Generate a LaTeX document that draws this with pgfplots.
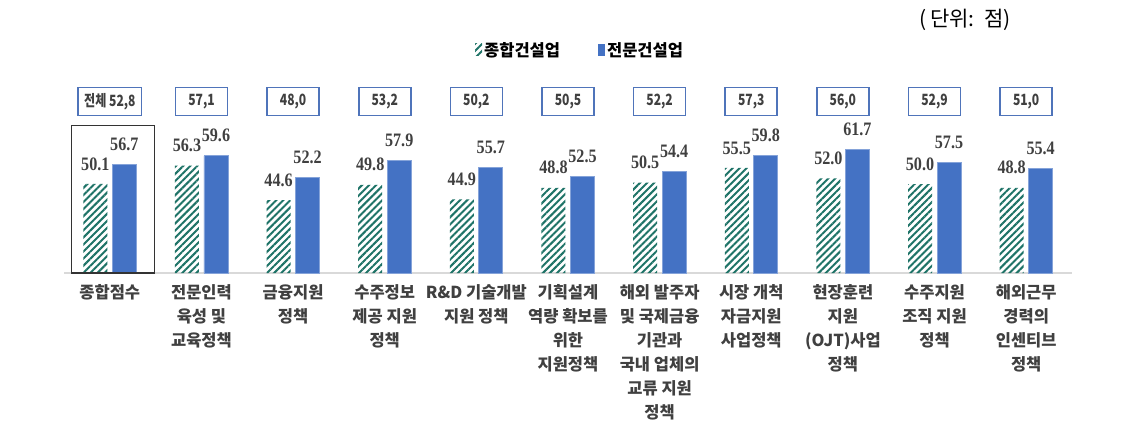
\documentclass[border=0pt]{standalone}
\usepackage{fontspec}
\setmainfont{Noto Sans CJK KR}
\newfontfamily\numfont{Liberation Serif}[FakeStretch=0.85]
\newfontfamily\boxfont{Noto Sans CJK KR}[FakeStretch=0.78]
\usepackage{pgfplots}
\pgfplotsset{compat=1.18}
\usetikzlibrary{patterns.meta}
\definecolor{hatch}{HTML}{1E7367}
\definecolor{barblue}{HTML}{4472C4}
\definecolor{boxblue}{HTML}{4F74BA}
\definecolor{txtgray}{HTML}{404040}
\begin{document}
\begin{tikzpicture}[x=1pt,y=1pt]
\useasboundingbox (0,0) rectangle (1146,434);
\begin{axis}[
  at={(64pt,161pt)}, anchor=south west,
  width=1008pt, height=148pt, scale only axis,
  xmin=-0.5, xmax=10.5, ymin=20, ymax=70,
  axis x line*=bottom, axis y line=none,
  x axis line style={draw=black!15, line width=2pt, -},
  xtick={0,...,10},
  xticklabels={{종합점수},{전문인력\\육성 및\\교육정책},{금융지원\\정책},{수주정보\\제공 지원\\정책},{R\&D 기술개발\\지원 정책},{기획설계\\역량 확보를\\위한\\지원정책},{해외 발주자\\및 국제금융\\기관과\\국내 업체의\\교류 지원\\정책},{시장 개척\\자금지원\\사업정책},{현장훈련\\지원\\(OJT)사업\\정책},{수주지원\\조직 지원\\정책},{해외근무\\경력의\\인센티브\\정책}},
  xticklabel style={align=center, font=\bfseries\fontsize{16.5}{24}\selectfont, text=txtgray, yshift=-8pt},
  major tick length=0pt,
  ytick=\empty,
  clip=false,
  legend style={at={(0.512,1.507)}, anchor=center, draw=none, fill=none,
    legend columns=2, font=\bfseries\fontsize{16.5}{16.5}\selectfont,
    /tikz/every even column/.append style={column sep=36pt}},
  legend image code/.code={\path[#1, draw=none] (0pt,-6pt) rectangle (7pt,6pt);},
]
\addplot[ybar, bar width=24pt, bar shift=-14.5pt, draw=none,
  pattern={Lines[angle=45, distance=5pt, line width=2pt]}, pattern color=hatch,
  nodes near coords={\pgfmathprintnumber[fixed, fixed zerofill, precision=1, assume math mode=true]{\pgfplotspointmeta}},
  nodes near coords style={font=\numfont\bfseries\fontsize{19}{19}\selectfont, text=txtgray, anchor=south, yshift=10pt, xshift=-14.5pt}]
  coordinates {(0,50.1) (1,56.3) (2,44.6) (3,49.8) (4,44.9) (5,48.8) (6,50.5) (7,55.5) (8,52.0) (9,50.0) (10,48.8)};
\addlegendentry{종합건설업}
\addplot[ybar, bar width=24pt, bar shift=14.5pt, fill=barblue, draw=barblue!65!white, line width=0.8pt,
  nodes near coords={\pgfmathprintnumber[fixed, fixed zerofill, precision=1, assume math mode=true]{\pgfplotspointmeta}},
  nodes near coords style={font=\numfont\bfseries\fontsize{19}{19}\selectfont, text=txtgray, anchor=south, yshift=10pt, xshift=14.5pt}]
  coordinates {(0,56.7) (1,59.6) (2,52.2) (3,57.9) (4,55.7) (5,52.5) (6,54.4) (7,59.8) (8,61.7) (9,57.5) (10,55.4)};
\addlegendentry{전문건설업}
% overall scores shown in boxes above each group
\addplot[only marks, mark=*, mark options={draw=none, fill=none}, forget plot,
  nodes near coords, point meta=explicit symbolic,
  nodes near coords style={anchor=center, draw=boxblue, line width=1.6pt, fill=white,
    minimum width=52pt, minimum height=28pt, inner xsep=6pt,
    font=\boxfont\bfseries\fontsize{15.5}{15.5}\selectfont, text=txtgray}]
  coordinates {(0,78)[전체 52,8] (1,78)[57,1] (2,78)[48,0] (3,78)[53,2] (4,78)[50,2] (5,78)[50,5]
    (6,78)[52,2] (7,78)[57,3] (8,78)[56,0] (9,78)[52,9] (10,78)[51,0]};
\draw[black!80, line width=1.2pt] (axis cs:-0.42,20) rectangle (axis cs:0.486,69.7);
\end{axis}
\node[font=\fontsize{21}{21}\selectfont] at (965,414) {(\,단위:\ \ 점)};
\end{tikzpicture}
\end{document}
